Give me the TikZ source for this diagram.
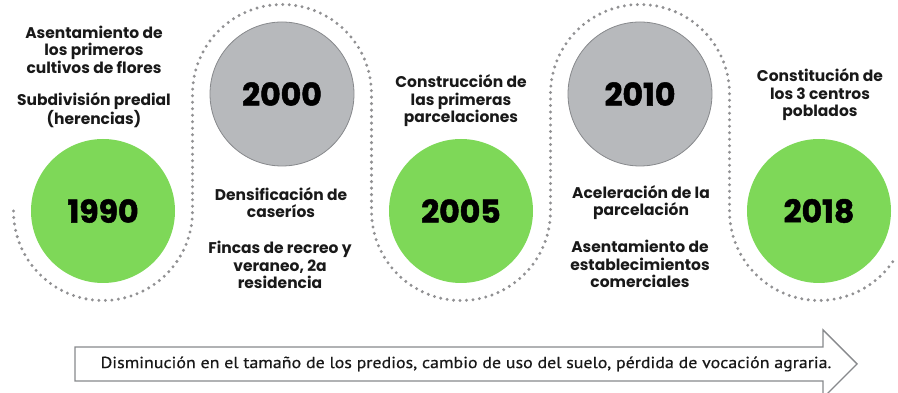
\documentclass[tikz,border=0pt]{standalone}
\usepackage{fontspec}
\usepackage{tikz}
\usepackage{xcolor}
\setmainfont{Poppins}
\newfontfamily\yearfont[BoldFeatures={FakeBold=1.6}]{Poppins}
\newfontfamily\barfont[FakeStretch=1.12,FakeBold=0.6]{PT Sans}
\usetikzlibrary{positioning}
\definecolor{hitgreen}{RGB}{126,216,88}
\definecolor{pastgrey}{RGB}{183,185,188}
\definecolor{rimgrey}{RGB}{135,137,140}
\definecolor{dotgrey}{RGB}{145,145,147}
\definecolor{inkgrey}{RGB}{25,25,25}

\begin{document}
\begin{tikzpicture}[x=1pt,y=1pt,
 yearnow/.style={circle,fill=hitgreen,minimum size=144pt,inner sep=0pt,font=\yearfont\bfseries\fontsize{31.5}{31.5}\selectfont},
 yearold/.style={circle,fill=pastgrey,draw=rimgrey,line width=0.8pt,minimum size=144pt,inner sep=0pt,font=\yearfont\bfseries\fontsize{31.5}{31.5}\selectfont},
 milestone/.style={align=center,inner sep=0pt,text=inkgrey,font=\bfseries\fontsize{15.5}{17.5}\selectfont},
 trail/.style={dotgrey,line width=3.3pt,line cap=round,dash pattern=on 0pt off 6.5pt}] % sets the styles
 \clip (0,0) rectangle (898,393); % fixes the frame
 % year circles
 \node[yearnow] (y1990) at (103,182) {1990};
 \node[yearold] (y2000) at (282,299) {2000};
 \node[yearnow] (y2005) at (461,182) {2005};
 \node[yearold] (y2010) at (640,299) {2010};
 \node[yearnow] (y2018) at (819,182) {2018};
 % dotted serpentine round the circles
 \draw[trail] (13.5,182) arc[start angle=180,end angle=360,radius=89.5] -- ++(0,117)
  arc[start angle=180,end angle=0,radius=89.5] -- ++(0,-117)
  arc[start angle=180,end angle=360,radius=89.5] -- ++(0,117)
  arc[start angle=180,end angle=0,radius=89.5] -- ++(0,-117)
  arc[start angle=180,end angle=328,radius=89.5];
 % texts of each period
 \node[milestone] (flores) at (94,343.5) {Asentamiento de\\los primeros\\cultivos de flores};
 \node[milestone] (herencias) at (94,282.5) {Subdivisión predial\\(herencias)};
 \node[milestone] (caserios) at (281,190.5) {Densificación de\\caseríos};
 \node[milestone] (recreo) at (280,128) {Fincas de recreo y\\veraneo, 2a\\residencia};
 \node[milestone] (parcelas) at (461,292) {Construcción de\\las primeras\\parcelaciones};
 \node[milestone] (aceleracion) at (641,190.5) {Aceleración de la\\parcelación};
 \node[milestone] (comercio) at (640,129) {Asentamiento de\\establecimientos\\comerciales};
 \node[milestone] (centros) at (820,298) {Constitución de\\los 3 centros\\poblados};
 % trend arrow at the bottom
 \draw[rimgrey,line width=1.4pt,fill=white] (75,12) -- (823,12) -- (823,-5) -- (857,29) -- (823,63) -- (823,46) -- (75,46) -- cycle;
 \node[text=inkgrey,font=\barfont\fontsize{16}{16}\selectfont] (tendencia) at (466,29) {Disminución en el tamaño de los predios, cambio de uso del suelo, pérdida de vocación agraria.};
\end{tikzpicture}
\end{document}
